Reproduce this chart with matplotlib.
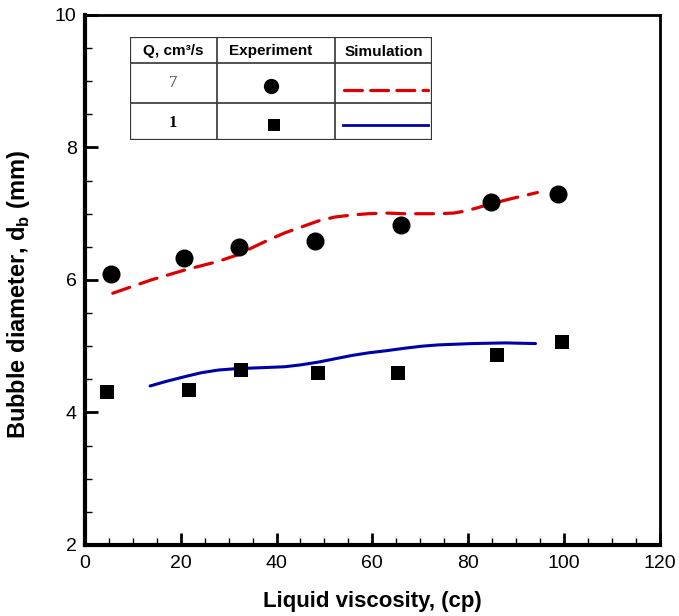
import matplotlib
matplotlib.use("Agg")
import matplotlib.pyplot as plt
from matplotlib.lines import Line2D

plt.rcParams['font.family'] = ['Liberation Sans', 'DejaVu Sans']
plt.rcParams['mathtext.fontset'] = 'custom'
plt.rcParams['mathtext.rm'] = 'Liberation Sans'
plt.rcParams['mathtext.bf'] = 'Liberation Sans:bold'

# measured bubble diameters (mm) vs liquid viscosity (cp)
visc_q7 = [5.4, 20.6, 32.2, 48.0, 65.9, 84.7, 98.9]
db_q7 = [6.09, 6.33, 6.50, 6.59, 6.83, 7.18, 7.30]
visc_q1 = [4.6, 21.8, 32.5, 48.6, 65.4, 86.0, 99.6]
db_q1 = [4.31, 4.34, 4.64, 4.59, 4.59, 4.87, 5.07]

# simulated curves
sim_visc_q7 = [5.8, 13.8, 20.8, 27.8, 31.9, 35.0, 38.2, 41.7, 45.2, 48.7,
               52.2, 55.7, 59.2, 63.0, 66.8, 73.8, 77.0, 79.4, 82.0, 84.3,
               89.2, 94.5]
sim_db_q7 = [5.80, 6.00, 6.15, 6.28, 6.38, 6.49, 6.60, 6.71, 6.80, 6.89,
             6.95, 6.98, 7.00, 7.01, 7.00, 7.00, 7.01, 7.04, 7.09, 7.14,
             7.23, 7.32]
sim_visc_q1 = [13.6, 17.0, 20.8, 24.3, 27.8, 31.3, 34.8, 41.7, 45.2, 48.7,
               52.2, 55.7, 59.2, 62.7, 66.8, 70.3, 73.8, 80.8, 87.8, 94.1]
sim_db_q1 = [4.40, 4.47, 4.54, 4.60, 4.64, 4.66, 4.67, 4.69, 4.72, 4.76,
             4.81, 4.86, 4.90, 4.93, 4.97, 5.00, 5.02, 5.04, 5.05, 5.04]

red = '#dd0000'
blue = '#0000aa'

fig = plt.figure(figsize=(6.79, 6.16), dpi=100)
ax = fig.add_axes([0.1252, 0.1153, 0.8461, 0.8604])

ax.plot(sim_visc_q7, sim_db_q7, color=red, lw=2.3, dashes=(5.6, 3.4),
        dash_capstyle='round')
ax.plot(sim_visc_q1, sim_db_q1, color=blue, lw=2.2, solid_capstyle='round')
ax.plot(visc_q7, db_q7, 'o', color='black', ms=13, mew=0)
ax.plot(visc_q1, db_q1, 's', color='black', ms=10, mew=0)

ax.set_xlim(0, 120)
ax.set_ylim(2, 10)
ax.set_xticks(range(0, 121, 20))
ax.set_xticks(range(0, 121, 5), minor=True)
ax.set_yticks(range(2, 11, 2))
ax.set_yticks([2 + 0.5 * i for i in range(17)], minor=True)
ax.tick_params(which='major', direction='in', length=9, width=2,
               labelsize=14)
ax.tick_params(axis='x', which='major', pad=7)
ax.tick_params(axis='y', which='major', pad=6)
ax.tick_params(which='minor', direction='in', length=5, width=1)
ax.tick_params(top=False, right=False, which='both')
for side in ['left', 'bottom']:
    ax.spines[side].set_linewidth(3)
for side in ['top', 'right']:
    ax.spines[side].set_linewidth(2)

ax.set_xlabel('Liquid viscosity, (cp)', fontsize=16, fontweight='bold',
              labelpad=14)
ax.set_ylabel('Bubble diameter, d$_\\mathbf{b}$ (mm)', fontsize=17,
              fontweight='bold')
ax.yaxis.set_label_coords(-0.092, 0.472)

# legend table
tab = fig.add_axes([0.1915, 0.7727, 0.4448, 0.1677])
tab.set_xlim(0, 302)
tab.set_ylim(103.3, 0)
tab.axis('off')
tcol = '#333333'
for x in [0, 302]:
    tab.add_line(Line2D([x, x], [0, 103.3], color=tcol, lw=1.6))
for y in [0, 103.3]:
    tab.add_line(Line2D([0, 302], [y, y], color=tcol, lw=1.6))
for x in [86.7, 205]:
    tab.add_line(Line2D([x, x], [0, 103.3], color=tcol, lw=1.2))
for y in [26.6, 66]:
    tab.add_line(Line2D([0, 302], [y, y], color=tcol, lw=1.2))

tab.text(43, 14, 'Q, cm³/s', ha='center', va='center', fontsize=11,
         fontweight='bold')
tab.text(141, 14, 'Experiment', ha='center', va='center', fontsize=11,
         fontweight='bold')
tab.text(254, 15, 'Simulation', ha='center', va='center', fontsize=11,
         fontweight='bold')
tab.text(43, 46, '7', ha='center', va='center', fontsize=12,
         family='Liberation Serif', color='#444444')
tab.text(43, 86, '1', ha='center', va='center', fontsize=12,
         family='Liberation Serif', fontweight='bold')
tab.plot([141], [49], 'o', color='black', ms=11, mew=0)
tab.plot([144], [88], 's', color='black', ms=9, mew=0)
tab.plot([214, 298], [53, 53], color=red, lw=2.3, dashes=(5.6, 2.6),
         dash_capstyle='round')
tab.plot([213, 298], [88, 88], color=blue, lw=2.0)

fig.savefig('out.png', dpi=100)
